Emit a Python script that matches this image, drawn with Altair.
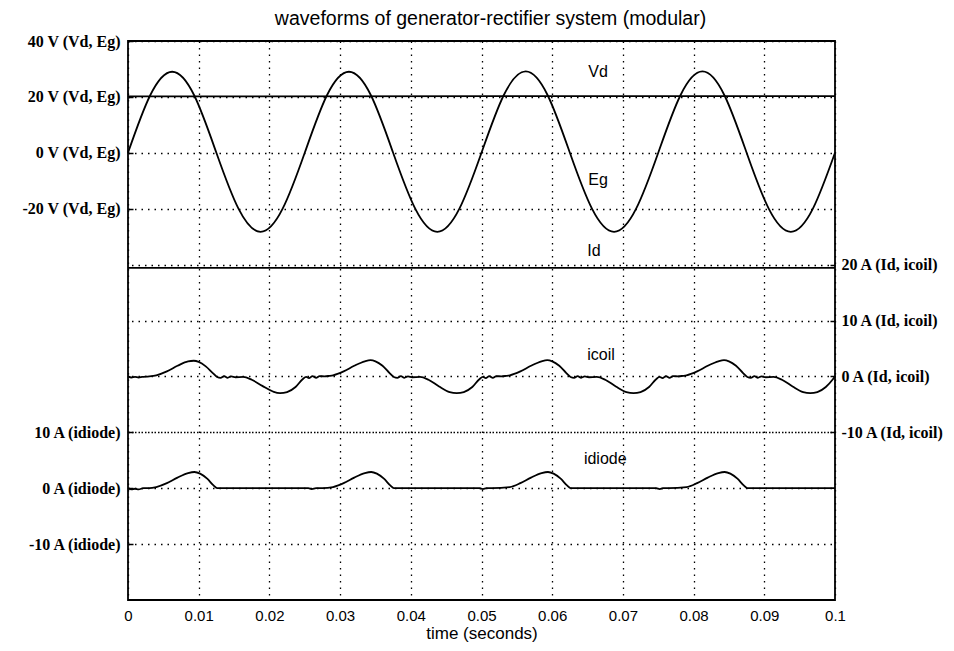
import altair as alt
import pandas as pd

TITLE = "waveforms of generator-rectifier system (modular)"
X_TITLE = "time (seconds)"

# x axis ticks
x_ticks = [0.0, 0.01, 0.02, 0.03, 0.04, 0.05, 0.06, 0.07, 0.08, 0.09, 0.1]
x_tick_labels = ["0", "0.01", "0.02", "0.03", "0.04", "0.05", "0.06", "0.07", "0.08", "0.09", "0.1"]

# stacked-panel tick positions (panel units) and their labels
left_tick_pos = [1, 2, 3, 7, 8, 9, 10]
left_tick_labels = ["-10 A (idiode)", "0 A (idiode)", "10 A (idiode)",
                    "-20 V (Vd, Eg)", "0 V (Vd, Eg)", "20 V (Vd, Eg)", "40 V (Vd, Eg)"]
right_tick_pos = [3, 4, 5, 6]
right_tick_labels = ["-10 A (Id, icoil)", "0 A (Id, icoil)", "10 A (Id, icoil)", "20 A (Id, icoil)"]

# ---- series ----
t_flat = [0.0, 0.1]
vd = [20.2, 20.3]
id_ = [19.4, 19.4]

t_eg = [0.0, 0.003125, 0.00625, 0.009375, 0.0125, 0.015625, 0.01875, 0.021875,
        0.025, 0.028125, 0.03125, 0.034375, 0.0375, 0.040625, 0.04375, 0.046875,
        0.05, 0.053125, 0.05625, 0.059375, 0.0625, 0.065625, 0.06875, 0.071875,
        0.075, 0.078125, 0.08125, 0.084375, 0.0875, 0.090625, 0.09375, 0.096875, 0.1]
eg = [0.0, 20.5, 29.0, 20.5, 0.0, -20.0, -28.3, -20.0,
      0.0, 20.5, 29.0, 20.5, 0.0, -20.0, -28.3, -20.0,
      0.0, 20.5, 29.1, 20.5, 0.0, -20.0, -28.3, -20.0,
      0.0, 20.5, 29.1, 20.5, 0.0, -20.0, -28.3, -20.0, 0.0]

t_icoil = [0.0, 0.0005, 0.001, 0.0015, 0.002, 0.003, 0.004, 0.0055, 0.007, 0.0085, 0.0093, 0.01,
           0.011, 0.012, 0.0126, 0.0131, 0.0136, 0.0141, 0.0146, 0.0152, 0.0163, 0.0175, 0.019,
           0.0205, 0.0215, 0.0225, 0.0237, 0.0247, 0.0252, 0.0256, 0.0261, 0.0266, 0.0271, 0.0278, 0.0285,
           0.029, 0.0305, 0.032, 0.0335, 0.0343, 0.035, 0.036, 0.037, 0.0376, 0.0381, 0.0386, 0.0391,
           0.0396, 0.0402, 0.0413, 0.0425, 0.044, 0.0455, 0.0465, 0.0475, 0.0487, 0.0497, 0.0502,
           0.0506, 0.0511, 0.0516, 0.0521, 0.0528, 0.0535,
           0.054, 0.0555, 0.057, 0.0585, 0.0593, 0.06, 0.061, 0.062, 0.0626, 0.0631, 0.0636, 0.0641,
           0.0646, 0.0652, 0.0663, 0.0675, 0.069, 0.0705, 0.0715, 0.0725, 0.0737, 0.0747, 0.0752,
           0.0756, 0.0761, 0.0766, 0.0771, 0.0778, 0.0785,
           0.079, 0.0805, 0.082, 0.0835, 0.0843, 0.085, 0.086, 0.087, 0.0876, 0.0881, 0.0886, 0.0891,
           0.0896, 0.0902, 0.0913, 0.0925, 0.094, 0.0955, 0.0965, 0.0975, 0.0987, 0.0997, 0.1]
icoil = [0.0, -0.2, -0.1, -0.2, -0.1, 0.0, 0.2, 0.9, 1.9, 2.7, 2.8, 2.6,
         1.8, 0.6, -0.1, -0.25, 0.05, -0.25, 0.0, -0.15, -0.1, -0.6, -1.7,
         -2.7, -3.0, -2.8, -1.9, -0.5, -0.1, -0.3, 0.05, -0.25, 0.05, 0.0, 0.1,
         0.2, 0.9, 1.9, 2.7, 2.9, 2.7, 1.9, 0.6, -0.1, -0.25, 0.05, -0.25,
         0.0, -0.15, -0.1, -0.6, -1.8, -2.8, -3.0, -2.8, -1.9, -0.5, -0.1,
         -0.3, 0.05, -0.25, 0.05, 0.0, 0.1,
         0.2, 0.9, 1.9, 2.7, 2.9, 2.7, 1.9, 0.6, -0.1, -0.25, 0.05, -0.25,
         0.0, -0.15, -0.1, -0.6, -1.8, -2.8, -3.0, -2.8, -1.9, -0.5, -0.1,
         -0.3, 0.05, -0.25, 0.05, 0.0, 0.1,
         0.2, 0.9, 1.9, 2.7, 2.9, 2.7, 1.9, 0.6, -0.1, -0.25, 0.05, -0.25,
         0.0, -0.15, -0.1, -0.6, -1.8, -2.8, -3.0, -2.8, -1.9, -0.5, 0.0]

t_idiode = [0.0, 0.0005, 0.001, 0.0015, 0.0022, 0.003, 0.004, 0.0055, 0.007, 0.0085, 0.0094, 0.0102,
            0.0112, 0.0121, 0.0126, 0.015, 0.02, 0.0255, 0.026, 0.0266, 0.0275,
            0.029, 0.0305, 0.032, 0.0335, 0.0344, 0.0352, 0.0362, 0.0371, 0.0376, 0.045, 0.0497,
            0.0502, 0.0507, 0.0515,
            0.054, 0.0555, 0.057, 0.0585, 0.0594, 0.0602, 0.0612, 0.0621, 0.0626, 0.07, 0.0747,
            0.0752, 0.0757, 0.0765,
            0.079, 0.0805, 0.082, 0.0835, 0.0844, 0.0852, 0.0862, 0.0871, 0.0876, 0.095, 0.1]
idiode = [0.0, -0.2, -0.1, -0.2, 0.0, 0.0, 0.2, 0.9, 1.9, 2.7, 2.9, 2.6,
          1.7, 0.5, 0.0, 0.0, 0.0, 0.0, -0.15, 0.0, 0.0,
          0.2, 0.9, 1.9, 2.7, 2.9, 2.6, 1.7, 0.5, 0.0, 0.0, 0.0,
          -0.15, 0.0, 0.0,
          0.2, 0.9, 1.9, 2.7, 2.9, 2.6, 1.7, 0.5, 0.0, 0.0, 0.0,
          -0.15, 0.0, 0.0,
          0.2, 0.9, 1.9, 2.7, 2.9, 2.6, 1.7, 0.5, 0.0, 0.0, 0.0]

# line name annotations
label_names = ["Vd", "Eg", "Id", "icoil", "idiode"]
label_t = [0.0665, 0.0665, 0.0659, 0.0669, 0.0675]
label_val = [29.0, -9.8, 22.4, 3.8, 5.2]

assert len(t_icoil) == len(icoil) and len(t_idiode) == len(idiode) and len(t_eg) == len(eg)

rows = []
for name, ts, vs in [("Vd", t_flat, vd), ("Id", t_flat, id_), ("Eg", t_eg, eg),
                     ("icoil", t_icoil, icoil), ("idiode", t_idiode, idiode)]:
    for t, v in zip(ts, vs):
        rows.append({"series": name, "t": t, "value": v})
df = pd.DataFrame(rows)
lab_df = pd.DataFrame({"series": label_names, "t": label_t, "value": label_val})

# place each signal in its own band of the stacked plot
U_EXPR = ("(datum.series=='Vd'||datum.series=='Eg') ? 8 + datum.value/20 : "
          "(datum.series=='idiode' ? 2 + datum.value/10 : 4 + datum.value/10)")


def label_expr(pos, labels):
    expr = "''"
    for p, l in zip(pos, labels):
        expr = f"round(datum.value)=={p} ? '{l}' : " + expr
    return expr


x_expr = "''"
for v, l in zip(x_ticks, x_tick_labels):
    x_expr = f"round(datum.value*100)=={round(v * 100)} ? '{l}' : " + x_expr

W, H = 707, 559
GRID = dict(grid=True, gridDash=[1.5, 5], gridColor="black", gridWidth=1.3, gridOpacity=1)
YSCALE = alt.Scale(domain=[0, 10], nice=False, zero=False)

X = alt.X("t:Q", scale=alt.Scale(domain=[0, 0.1], nice=False, zero=False),
          axis=alt.Axis(values=x_ticks, labelExpr=x_expr, ticks=False, tickSize=0, domain=False,
                        labelFont="Liberation Sans", labelFontSize=15, labelColor="black",
                        labelPadding=8, labelFlush=False, labelOverlap=False,
                        title=X_TITLE, titleFont="Liberation Sans", titleFontSize=17,
                        titleFontWeight="normal", titleColor="black", titlePadding=2, **GRID))

left_axis = alt.Axis(orient="left", values=left_tick_pos,
                     labelExpr=label_expr(left_tick_pos, left_tick_labels),
                     ticks=False, tickSize=0, domain=False, labelFont="Liberation Serif",
                     labelFontWeight="bold", labelFontSize=16, labelColor="black",
                     labelPadding=8, labelOverlap=False, labelFlush=False, title=None, **GRID)
right_axis = alt.Axis(orient="right", values=right_tick_pos,
                      labelExpr=label_expr(right_tick_pos, right_tick_labels),
                      ticks=False, tickSize=0, domain=False, labelFont="Liberation Serif",
                      labelFontWeight="bold", labelFontSize=16, labelColor="black",
                      labelPadding=6, labelOverlap=False, labelFlush=False, title=None, **GRID)
left_in_ticks = alt.Axis(orient="right", offset=-W, values=left_tick_pos, labels=False,
                         domain=False, grid=False, ticks=True, tickSize=5, tickColor="black",
                         tickWidth=1.5, title=None)
right_in_ticks = alt.Axis(orient="left", offset=-W, values=right_tick_pos, labels=False,
                          domain=False, grid=False, ticks=True, tickSize=5, tickColor="black",
                          tickWidth=1.5, title=None)

base = alt.Chart(df).transform_calculate(u=U_EXPR)

eg_line = base.transform_filter("datum.series=='Eg'").mark_line(
    interpolate="natural", color="black", strokeWidth=1.8).encode(
    x=X, y=alt.Y("u:Q", scale=YSCALE, axis=left_axis), detail="series:N")
other_lines = base.transform_filter("datum.series!='Eg'").mark_line(
    interpolate="monotone", color="black", strokeWidth=1.8).encode(
    x=X, y=alt.Y("u:Q", scale=YSCALE, axis=left_axis), detail="series:N")
lines = alt.layer(eg_line, other_lines)

lab_base = alt.Chart(lab_df).transform_calculate(u=U_EXPR)
texts = lab_base.mark_text(font="Liberation Sans", fontSize=16, color="black",
                           align="center", baseline="middle").encode(
    x=X, y=alt.Y("u:Q", scale=YSCALE, axis=right_axis), text="series:N")
ticks_l = lab_base.mark_text(opacity=0).encode(
    x=X, y=alt.Y("u:Q", scale=YSCALE, axis=left_in_ticks), text="series:N")
ticks_r = lab_base.mark_text(opacity=0).encode(
    x=X, y=alt.Y("u:Q", scale=YSCALE, axis=right_in_ticks), text="series:N")

chart = alt.layer(lines, texts, ticks_l, ticks_r).resolve_scale(y="independent").properties(
    width=W, height=H,
    background="white",
    title=alt.TitleParams(TITLE, font="Liberation Sans", fontSize=19.5, fontWeight="normal",
                          color="black", offset=4, anchor="middle", dx=9),
    autosize=alt.AutoSizeParams(type="none"),
    padding={"left": 120, "top": 33, "right": 110, "bottom": 45},
).configure_view(stroke="black", strokeWidth=1.8)

chart.save("out.html", embed_options={"renderer": "svg", "actions": False})
